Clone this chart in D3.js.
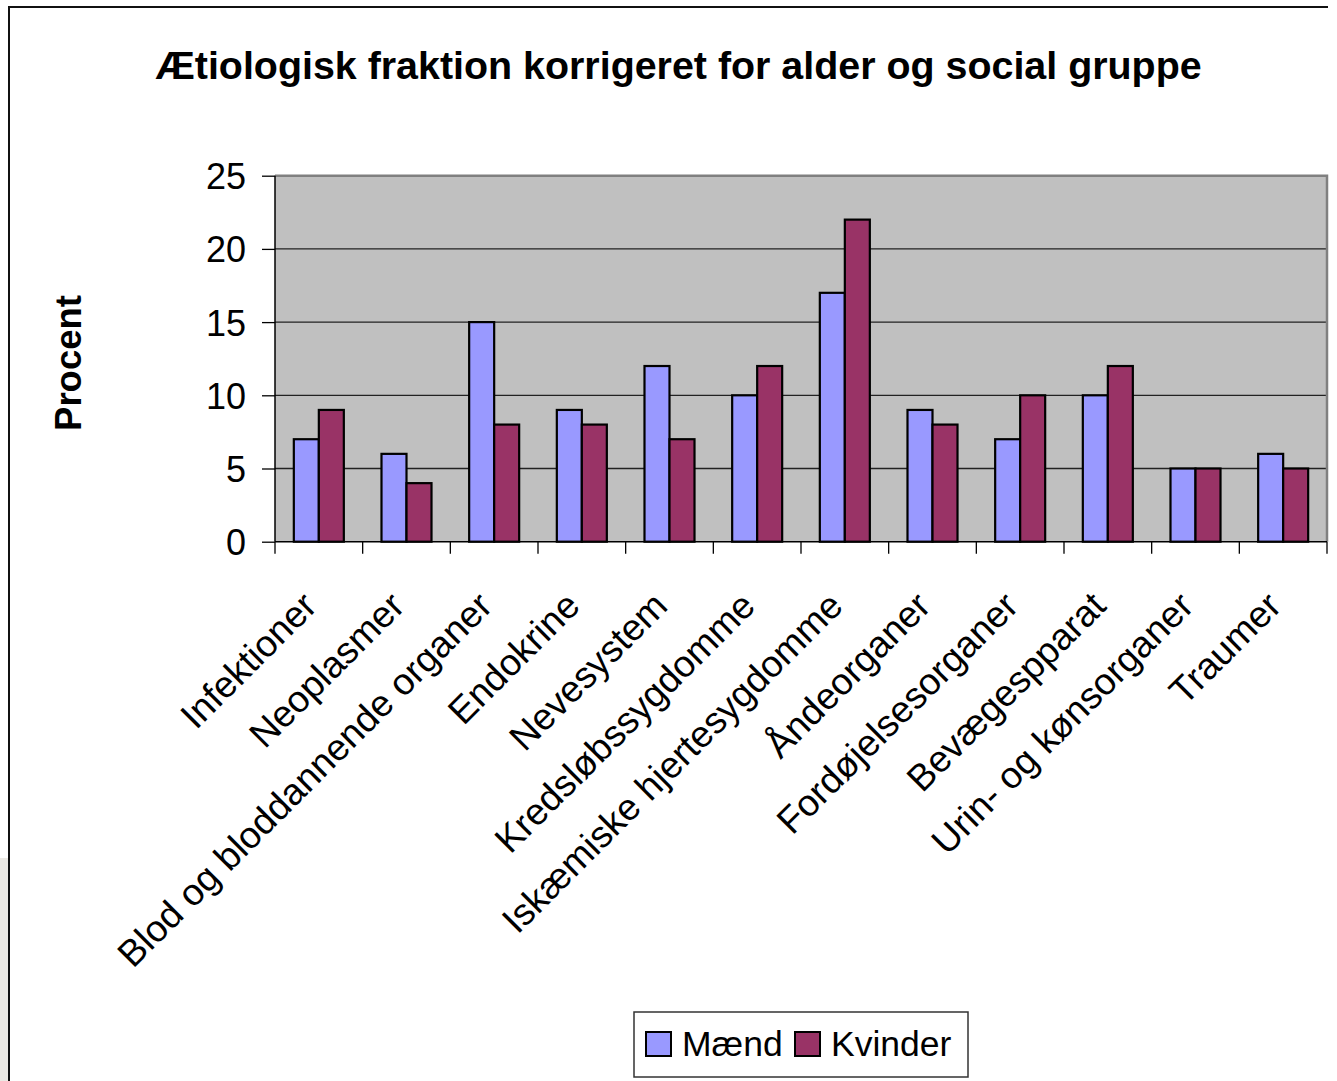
<!DOCTYPE html>
<html>
<head>
<meta charset="utf-8">
<script src="https://cdn.jsdelivr.net/npm/d3@7"></script>
<style>
  html, body { margin: 0; padding: 0; background: #fff; }
  svg { display: block; }
  text { font-family: "Liberation Sans", Arial, sans-serif; fill: #000; }
</style>
</head>
<body>
<svg id="chart" width="1337" height="1081"></svg>
<script>
const categories = ["Infektioner", "Neoplasmer", "Blod og bloddannende organer", "Endokrine", "Nevesystem",
  "Kredsløbssygdomme", "Iskæmiske hjertesygdomme", "Åndeorganer", "Fordøjelsesorganer",
  "Bevægespparat", "Urin- og kønsorganer", "Traumer"];
const series = ["Mænd", "Kvinder"];
const maend   = [7, 6, 15, 9, 12, 10, 17, 9, 7, 10, 5, 6];
const kvinder = [9, 4, 8, 8, 7, 12, 22, 8, 10, 12, 5, 5];
const yTicks = [0, 5, 10, 15, 20, 25];
const colors = ["#9999FF", "#993366"];
const title = "Ætiologisk fraktion korrigeret for alder og social gruppe";
const yTitle = "Procent";

const values = [maend, kvinder];
const svg = d3.select("#chart");

// background decoration at left edge and outer frame
svg.append("rect").attr("x", 0).attr("y", 858).attr("width", 8).attr("height", 223).attr("fill", "#EBE9E4");
svg.append("path").attr("d", "M1328,7 H9 V1081").attr("fill", "none").attr("stroke", "#111").attr("stroke-width", 2);

const pL = 275, pR = 1327, pT = 175.7, pB = 541.7;

const x = d3.scaleBand().domain(categories).range([pL, pR]).padding(0);
const xs = d3.scaleBand().domain(series).range([0, x.bandwidth()]).paddingInner(0).paddingOuter(0.753);
const y = d3.scaleLinear().domain([0, 25]).range([pB, pT]);

// plot area
svg.append("rect").attr("x", pL).attr("y", pT).attr("width", pR - pL).attr("height", pB - pT)
  .attr("fill", "#C0C0C0");

// gridlines
svg.append("g").selectAll("line").data(yTicks.filter(d => d > 0 && d < 25)).join("line")
  .attr("x1", pL).attr("x2", pR).attr("y1", d => y(d)).attr("y2", d => y(d))
  .attr("stroke", "#222").attr("stroke-width", 1.3);

// plot border top/right
svg.append("path").attr("d", `M${pL},${pT} H${pR} V${pB}`).attr("fill", "none")
  .attr("stroke", "#808080").attr("stroke-width", 2.5);

// bars
series.forEach((s, si) => {
  svg.append("g").selectAll("rect").data(categories).join("rect")
    .attr("x", d => x(d) + xs(s))
    .attr("y", (d, i) => y(values[si][i]))
    .attr("width", xs.bandwidth())
    .attr("height", (d, i) => y(0) - y(values[si][i]))
    .attr("fill", colors[si]).attr("stroke", "#000").attr("stroke-width", 2.2);
});

// y axis
const yAxis = d3.axisLeft(y).tickValues(yTicks).tickSize(13).tickPadding(16);
const gy = svg.append("g").attr("transform", `translate(${pL},0)`).call(yAxis);
gy.select(".domain").attr("stroke", "#000").attr("stroke-width", 1.5).attr("d", `M0,${pT}V${pB}`);
gy.selectAll(".tick line").attr("stroke", "#000").attr("stroke-width", 1.3);
gy.selectAll(".tick text").style("font-size", "36px").style("font-family", "'Liberation Sans', Arial, sans-serif")
  .attr("fill", "#000").attr("dy", "0.36em");

// x axis line and ticks at boundaries
svg.append("line").attr("x1", pL).attr("x2", pR).attr("y1", pB).attr("y2", pB)
  .attr("stroke", "#000").attr("stroke-width", 1.5);
const bounds = categories.map(c => x(c)).concat([pR]);
svg.append("g").selectAll("line").data(bounds).join("line")
  .attr("x1", d => d).attr("x2", d => d).attr("y1", pB).attr("y2", pB + 12)
  .attr("stroke", "#000").attr("stroke-width", 1.3);

// x labels
svg.append("g").selectAll("text").data(categories).join("text")
  .attr("transform", d => `translate(${x(d) + x.bandwidth() / 2},608) rotate(-45)`)
  .attr("text-anchor", "end").style("font-size", "37.2px").text(d => d);

// title
svg.append("text").attr("x", 678.5).attr("y", 79).attr("text-anchor", "middle")
  .style("font-size", "39.4px").style("font-weight", "bold").text(title);

// y title
svg.append("text").attr("transform", "translate(81,363) rotate(-90)").attr("text-anchor", "middle")
  .style("font-size", "36.5px").style("font-weight", "bold").text(yTitle);

// legend
const lg = svg.append("g");
lg.append("rect").attr("x", 634).attr("y", 1012).attr("width", 334).attr("height", 65)
  .attr("fill", "#fff").attr("stroke", "#333").attr("stroke-width", 1.5);
const legX = [646, 795];
series.forEach((s, i) => {
  lg.append("rect").attr("x", legX[i]).attr("y", 1032).attr("width", 25).attr("height", 24)
    .attr("fill", colors[i]).attr("stroke", "#000").attr("stroke-width", 2);
  lg.append("text").attr("x", legX[i] + 36).attr("y", 1056).style("font-size", "35.5px").text(s);
});
</script>
</body>
</html>
